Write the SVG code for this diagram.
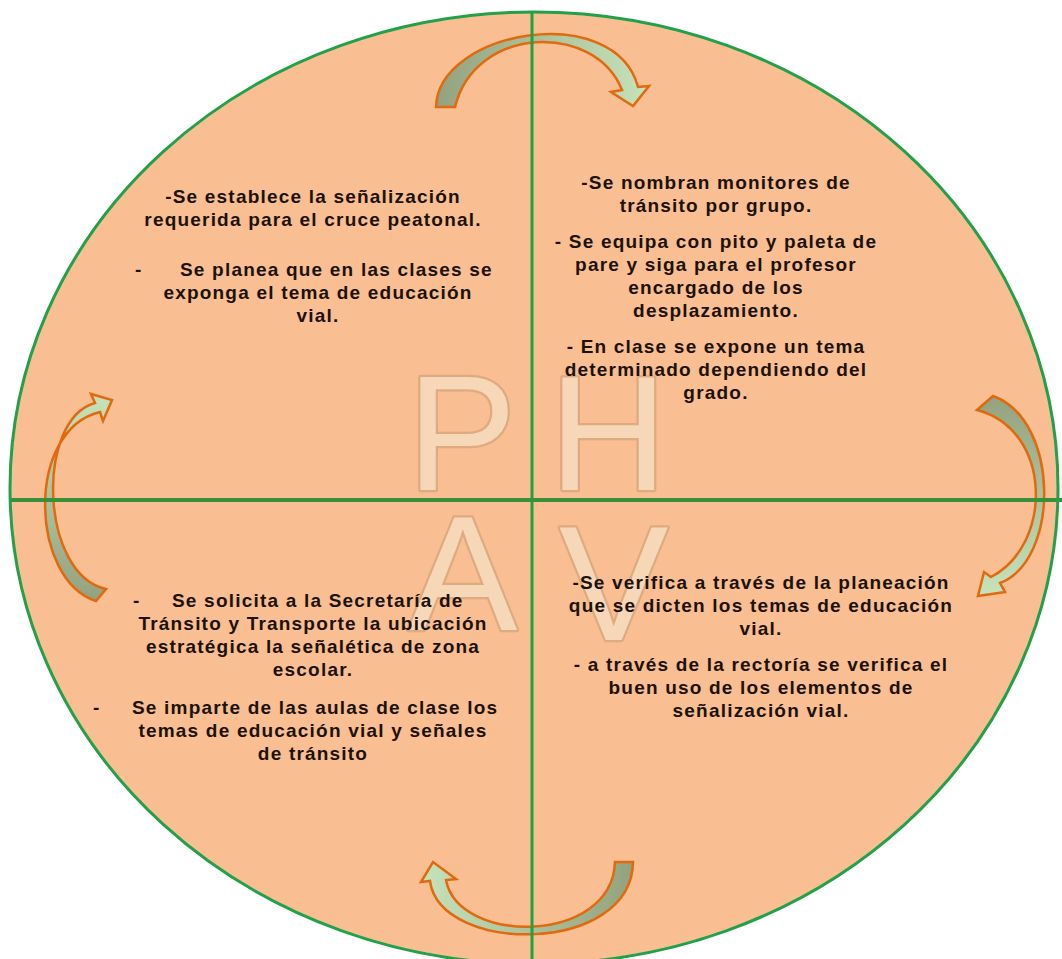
<svg xmlns="http://www.w3.org/2000/svg" width="1062" height="959" viewBox="0 0 1062 959">
  <defs>
    <style>
      .txt { font-family: "Liberation Sans", Arial, sans-serif; font-weight: bold; font-size: 19px; fill: #1c120a; letter-spacing: 1.2px; }
      .mid { text-anchor: middle; }
      .big { font-family: "Liberation Sans", Arial, sans-serif; font-size: 164px; fill: #F6D7B8; stroke: #DEAA80; stroke-width: 4.5; paint-order: stroke; stroke-linejoin: round; }
      .arrow { stroke: #E2690F; stroke-width: 2.5; stroke-linejoin: miter; }
      .axis-v { stroke: #1FA23F; stroke-width: 3; }
      .axis-h { stroke: #3A8F3A; stroke-width: 4; }
    </style>
    <linearGradient id="gTop" x1="0" y1="0" x2="1" y2="0">
      <stop offset="0" stop-color="#93A27E"/>
      <stop offset="1" stop-color="#C6E3BA"/>
    </linearGradient>
    <linearGradient id="gBottom" x1="1" y1="0" x2="0" y2="0">
      <stop offset="0" stop-color="#93A27E"/>
      <stop offset="1" stop-color="#C6E3BA"/>
    </linearGradient>
    <linearGradient id="gRight" x1="0" y1="0" x2="0" y2="1">
      <stop offset="0" stop-color="#93A27E"/>
      <stop offset="1" stop-color="#C6E3BA"/>
    </linearGradient>
    <linearGradient id="gLeft" x1="0" y1="1" x2="0" y2="0">
      <stop offset="0" stop-color="#93A27E"/>
      <stop offset="1" stop-color="#C6E3BA"/>
    </linearGradient>
  </defs>

  <rect width="1062" height="959" fill="#ffffff"/>

  <g id="background">
    <ellipse cx="534" cy="488" rx="524" ry="476" fill="#F9BE91"/>
  </g>

  <g id="letters">
    <text class="big" x="407" y="490">P</text>
    <text class="big" x="549" y="490">H</text>
    <text class="big" x="408" y="630">A</text>
    <text class="big" x="559" y="640">V</text>
  </g>

  <g id="connectors">
    <path id="arrow-top" class="arrow" fill="url(#gTop)" d="M 436 107 C 438 30, 615 0, 638 87 L 649 86 L 633 106 L 611 92 L 622 90 C 595 22, 475 25, 455 107 Z"/>
    <path id="arrow-right" class="arrow" fill="url(#gRight)" d="M 993 396 C 1060 420, 1060 560, 1000 583 L 1005 592 L 978 596 L 984 572 L 991 577 C 1053 545, 1053 430, 977 410 Z"/>
    <path id="arrow-bottom" class="arrow" fill="url(#gBottom)" d="M 633 862 C 632 955, 440 955, 430 881 L 421 882 L 433 862 L 456 879 L 446 880 C 458 945, 612 945, 615 862 Z"/>
    <path id="arrow-left" class="arrow" fill="url(#gLeft)" d="M 96 601 C 30 580, 25 430, 100 412 L 103 421 L 112 400 L 91 394 L 95 403 C 35 420, 40 575, 106 589 Z"/>
  </g>

  <g id="axes">
    <line class="axis-v" x1="532" y1="12" x2="532" y2="959"/>
    <line class="axis-h" x1="10" y1="500" x2="1062" y2="500"/>
  </g>

  <g id="outline">
    <ellipse cx="534" cy="488" rx="524" ry="476" fill="none" stroke="#23A04A" stroke-width="3"/>
  </g>

  <g id="node-top-left">
    <text class="txt mid" x="313" y="203">-Se establece la señalización</text>
    <text class="txt mid" x="313" y="226">requerida para el cruce peatonal.</text>
    <text class="txt" x="135" y="276">-</text>
    <text class="txt" x="180" y="276">Se planea que en las clases se</text>
    <text class="txt mid" x="318" y="299">exponga el tema de educación</text>
    <text class="txt mid" x="318" y="322">vial.</text>
  </g>

  <g id="node-top-right">
    <text class="txt mid" x="716" y="189">-Se nombran monitores de</text>
    <text class="txt mid" x="716" y="212">tránsito por grupo.</text>
    <text class="txt mid" x="716" y="248">- Se equipa con pito y paleta de</text>
    <text class="txt mid" x="716" y="271">pare y siga para el profesor</text>
    <text class="txt mid" x="716" y="294">encargado de los</text>
    <text class="txt mid" x="716" y="317">desplazamiento.</text>
    <text class="txt mid" x="716" y="353">- En clase se expone un tema</text>
    <text class="txt mid" x="716" y="376">determinado dependiendo del</text>
    <text class="txt mid" x="716" y="399">grado.</text>
  </g>

  <g id="node-bottom-left">
    <text class="txt" x="133" y="607">-</text>
    <text class="txt" x="172" y="607">Se solicita a la Secretaría de</text>
    <text class="txt mid" x="313" y="630">Tránsito y Transporte la ubicación</text>
    <text class="txt mid" x="313" y="653">estratégica la señalética de zona</text>
    <text class="txt mid" x="313" y="676">escolar.</text>
    <text class="txt" x="93" y="714">-</text>
    <text class="txt" x="132" y="714">Se imparte de las aulas de clase los</text>
    <text class="txt mid" x="313" y="737">temas de educación vial y señales</text>
    <text class="txt mid" x="313" y="760">de tránsito</text>
  </g>

  <g id="node-bottom-right">
    <text class="txt mid" x="761" y="589">-Se verifica a través de la planeación</text>
    <text class="txt mid" x="761" y="612">que se dicten los temas de educación</text>
    <text class="txt mid" x="761" y="635">vial.</text>
    <text class="txt mid" x="761" y="671">- a través de la rectoría se verifica el</text>
    <text class="txt mid" x="761" y="694">buen uso de los elementos de</text>
    <text class="txt mid" x="761" y="717">señalización vial.</text>
  </g>
</svg>
